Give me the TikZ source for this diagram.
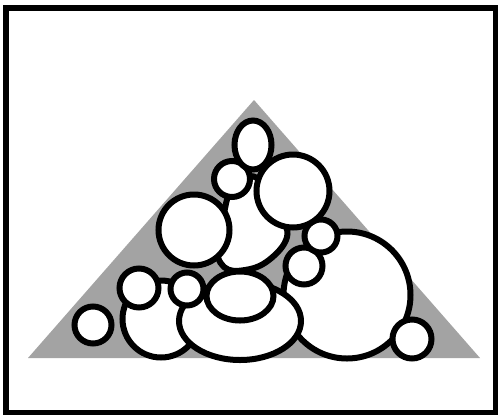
\documentclass[tikz,border=0pt]{standalone}
\usetikzlibrary{shapes.geometric}
\begin{document}
\begin{tikzpicture}[x=1pt,y=-1pt,
  blob/.style={draw=black,line width=6pt,fill=white,inner sep=0pt,outer sep=0pt},
  frame/.style={draw=black,line width=5.5pt}]
\useasboundingbox (0,0) rectangle (498,416);
\fill[white] (0,0) rectangle (498,416);
\draw[frame] (5.8,7.8) rectangle (495.3,412.5);
\coordinate (apex) at (254,100);
\coordinate (bl) at (28,358);
\coordinate (br) at (480,358);
\fill[black!36] (apex) -- (bl) -- (br) -- cycle;
% back to front
\draw[blob] plot[smooth cycle,tension=0.7] coordinates {(222,222) (232,186) (250,176) (264,186) (280,215) (287,237) (269,260) (245,270) (224,267) (216,245)};
\node[blob,circle,minimum size=36pt] (c2) at (232,179) {};
\node[blob,circle,minimum size=127pt] (c8) at (347,295) {};
\node[blob,circle,minimum size=37pt] (c7) at (304,266) {};
\node[blob,circle,minimum size=33pt] (c6) at (321,236) {};
\node[blob,circle,minimum size=73pt] (c3) at (293,191) {};
\node[blob,ellipse,minimum width=37pt,minimum height=49pt] (c1) at (253,145) {};
\node[blob,circle,minimum size=71pt] (c4) at (194,230) {};
\node[blob,circle,minimum size=77pt] (c15) at (161,319) {};
\node[blob,circle,minimum size=37pt] (c14) at (93,325) {};
\node[blob,circle,minimum size=39pt] (c13) at (139,288) {};
\node[blob,ellipse,minimum width=122pt,minimum height=78pt] (c10) at (240,321) {};
\node[blob,ellipse,minimum width=67pt,minimum height=49pt] (c11) at (240,296) {};
\node[blob,circle,minimum size=33pt] (c12) at (187,289) {};
\node[blob,circle,minimum size=39pt] (c9) at (412,339) {};
\end{tikzpicture}
\end{document}
